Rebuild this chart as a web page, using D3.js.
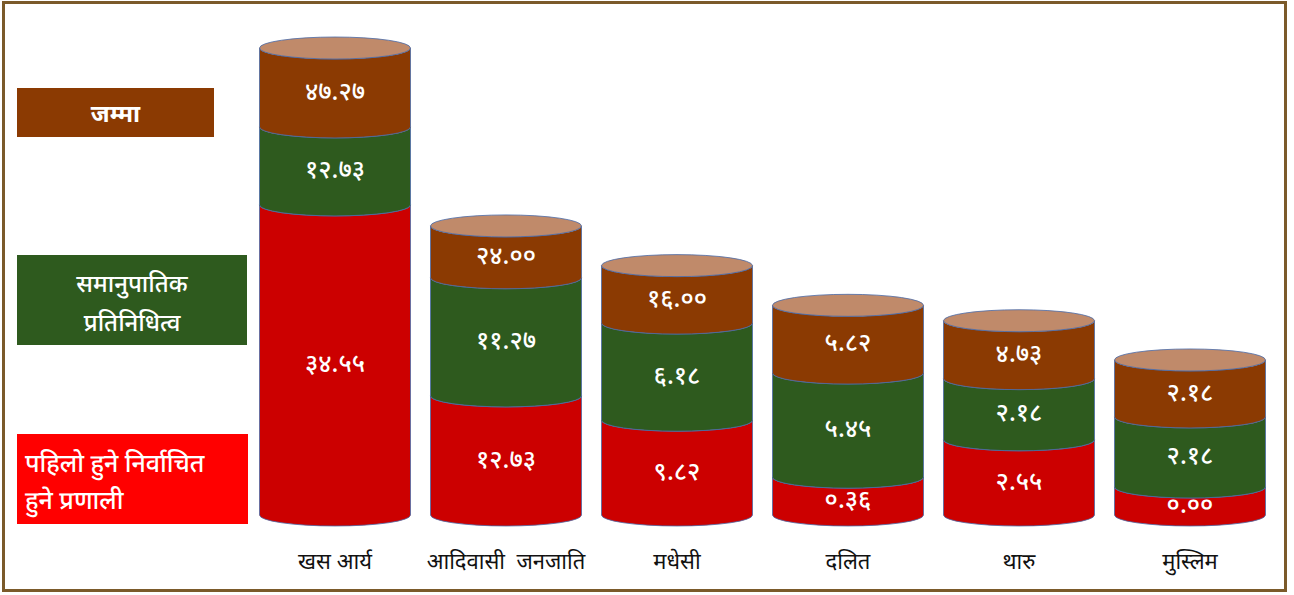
<!DOCTYPE html>
<html>
<head>
<meta charset="utf-8">
<script src="https://cdn.jsdelivr.net/npm/d3@7"></script>
<style>
  html, body { margin: 0; padding: 0; background: #fff; }
  svg { display: block; }
  text { font-family: "Noto Sans Devanagari", "Noto Sans", "Lohit Devanagari", sans-serif; white-space: pre; }
</style>
</head>
<body>
<svg id="chart" width="1294" height="595"></svg>
<script>
// ---- data ----
const categories = ["खस आर्य", "आदिवासी  जनजाति", "मधेसी", "दलित", "थारु", "मुस्लिम"];
// label values (percent)
const fptpValues  = [34.55, 12.73, 9.82, 0.36, 2.55, 0.00];
const prValues    = [12.73, 11.27, 6.18, 5.45, 2.18, 2.18];
const totalValues = [47.27, 24.00, 16.00, 5.82, 4.73, 2.18];
// plotted segment heights (hidden axis, 0-100)
const fptpPlotted  = [66.4, 25.5, 20.3, 8.1, 16.1, 6.0];
const prPlotted    = [16.7, 25.3, 20.8, 22.3, 13.1, 15.0];
const totalPlotted = [16.9, 11.1, 12.3, 14.5, 12.4, 12.2];
const seriesNames = ["पहिलो हुने निर्वाचित हुने प्रणाली", "समानुपातिक प्रतिनिधित्व", "जम्मा"];
const legendLines = [["जम्मा"], ["समानुपातिक", "प्रतिनिधित्व"], ["पहिलो हुने निर्वाचित", "हुने प्रणाली"]];

// ---- styles ----
const sideColors = ["#CC0000", "#2E5A1E", "#8B3A02"];
const capColor = "#C08A6A";
const legendColors = ["#8B3A02", "#2E5A1E", "#FF0000"];
const edgeColor = "#4A6BA8";

const svg = d3.select("#chart");

// frame
svg.append("rect").attr("x", 3.5).attr("y", 2.5).attr("width", 1282).attr("height", 588)
  .attr("fill", "#fff").attr("stroke", "#7B5A2A").attr("stroke-width", 3);

const x = d3.scalePoint().domain(categories).range([335, 1190]);
const y = d3.scaleLinear().domain([0, 100]).range([515, 48]);
const rx = 75.5, ry = 11;

const devDigits = "०१२३४५६७८९";
const toDev = v => v.toFixed(2).replace(/[0-9]/g, d => devDigits[+d]);

const rows = categories.map((c, i) => ({
  cat: c,
  heights: [fptpPlotted[i], prPlotted[i], totalPlotted[i]],
  labels: [fptpValues[i], prValues[i], totalValues[i]]
}));

rows.forEach(r => {
  const cx = x(r.cat);
  let base = 0;
  const g = svg.append("g");
  const segs = r.heights.map((h, k) => {
    const s = { k, y0: y(base), y1: y(base + h), label: r.labels[k] };
    base += h;
    return s;
  });
  segs.forEach(s => {
    const path = `M${cx - rx},${s.y1} L${cx - rx},${s.y0} A${rx},${ry} 0 0 0 ${cx + rx},${s.y0} L${cx + rx},${s.y1} A${rx},${ry} 0 0 1 ${cx - rx},${s.y1} Z`;
    g.append("path").attr("d", path).attr("fill", sideColors[s.k])
      .attr("stroke", edgeColor).attr("stroke-width", 0.8);
  });
  const top = segs[segs.length - 1].y1;
  g.append("ellipse").attr("cx", cx).attr("cy", top).attr("rx", rx).attr("ry", ry)
    .attr("fill", capColor).attr("stroke", edgeColor).attr("stroke-width", 0.8);
  segs.forEach(s => {
    g.append("text").attr("x", cx).attr("y", (s.y0 + s.y1) / 2 + ry * 0.5)
      .attr("text-anchor", "middle").attr("dominant-baseline", "middle")
      .attr("fill", "#fff").attr("font-size", 25).attr("font-weight", 500)
      .text(toDev(s.label));
  });
});

// category labels
svg.selectAll("text.cat").data(categories).enter().append("text")
  .attr("class", "cat").attr("x", d => x(d)).attr("y", 569)
  .attr("text-anchor", "middle").attr("font-size", 22).attr("fill", "#111")
  .text(d => d);

// legend
const legendBoxes = [
  { x: 17, y: 88, w: 197, h: 49, anchor: "middle", tx: 115.5, ty: [122], fs: 24, fw: 700 },
  { x: 17, y: 255, w: 230, h: 90, anchor: "middle", tx: 132, ty: [292, 331], fs: 24, fw: 500 },
  { x: 17, y: 434, w: 231, h: 90, anchor: "start", tx: 25, ty: [472, 509], fs: 25, fw: 500 }
];
legendBoxes.forEach((b, i) => {
  svg.append("rect").attr("x", b.x).attr("y", b.y).attr("width", b.w).attr("height", b.h)
    .attr("fill", legendColors[i]);
  legendLines[i].forEach((line, j) => {
    svg.append("text").attr("x", b.tx).attr("y", b.ty[j]).attr("text-anchor", b.anchor)
      .attr("fill", "#fff").attr("font-size", b.fs).attr("font-weight", b.fw)
      .text(line);
  });
});
</script>
</body>
</html>
